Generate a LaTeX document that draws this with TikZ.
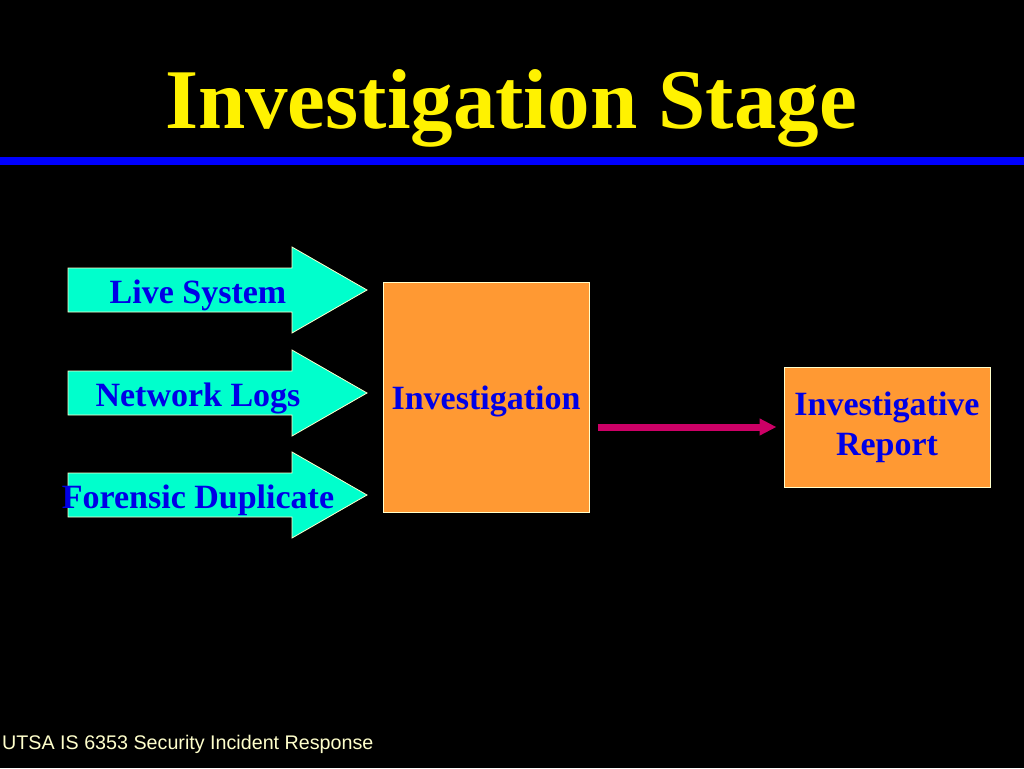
\documentclass[tikz,border=0pt]{standalone}
\usepackage{fontspec}
\setmainfont{Liberation Serif}
\newfontfamily\footfont{Liberation Sans}
\definecolor{aqua}{RGB}{0,255,204}
\definecolor{boxorange}{RGB}{255,153,51}
\definecolor{cream}{RGB}{255,255,204}
\definecolor{txtblue}{RGB}{0,0,230}
\definecolor{crimson}{RGB}{204,0,102}
\definecolor{rule}{RGB}{0,0,255}
\tikzset{
  inarrow/.style={fill=aqua,draw=cream,line width=0.8pt},
  lbl/.style={text=txtblue,font=\fontsize{34}{40}\selectfont\bfseries,inner sep=0pt,anchor=base},
  stagebox/.style={fill=boxorange,draw=cream,line width=1pt,text=txtblue,
    font=\fontsize{34}{40}\selectfont\bfseries,align=center,inner sep=0pt},
  flow/.style={draw=crimson,line width=7pt,-{Triangle[length=17pt,width=16pt]}}
}
\usetikzlibrary{arrows.meta}
\begin{document}
\begin{tikzpicture}[x=1pt,y=-1pt]
  \useasboundingbox (0,0) rectangle (1024,768);
  \fill[black] (0,0) rectangle (1024,768);
  % title and rule
  \node[text=yellow,font=\fontsize{85}{90}\selectfont\bfseries,inner sep=0pt,anchor=base] (title) at (511,128) {Investigation Stage};
  \fill[rule] (0,157) rectangle (1024,165);
  % input arrows
  \foreach \y/\name/\txt in {290/live/Live System, 393/logs/Network Logs, 495/dup/Forensic Duplicate} {
    \draw[inarrow] (68,\y-22) -- (292,\y-22) -- (292,\y-43) -- (367,\y)
      -- (292,\y+43) -- (292,\y+22) -- (68,\y+22) -- cycle;
    \node[lbl] (\name) at (198,\y+13) {\txt};
  }
  % boxes
  \node[stagebox,minimum width=206pt,minimum height=230pt,text height=32pt,text depth=8pt] (inv) at (486,397) {Investigation};
  \node[stagebox,minimum width=206pt,minimum height=120pt] (rep) at (887,427) {Investigative\\Report};
  \draw[flow,shorten <=8pt,shorten >=7pt] (inv.east |- rep.west) -- (rep.west);
  % footer
  \node[text=cream,font=\footfont\fontsize{19.7}{24}\selectfont,inner sep=0pt,anchor=base west] (foot) at (2,749) {UTSA IS 6353 Security Incident Response};
\end{tikzpicture}
\end{document}
